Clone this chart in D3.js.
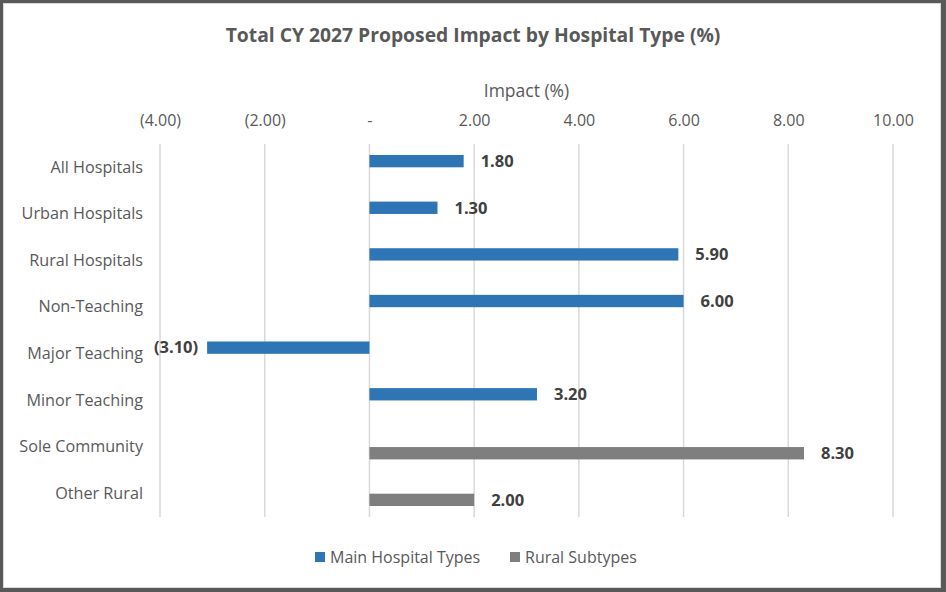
<!DOCTYPE html>
<html>
<head>
<meta charset="utf-8">
<script src="https://cdn.jsdelivr.net/npm/d3@7"></script>
<style>
  body { margin: 0; background: #fff; }
  text { font-family: "Open Sans", "Noto Sans", sans-serif; }
</style>
</head>
<body>
<div id="chart"></div>
<script>
// data
var categories = ['All Hospitals', 'Urban Hospitals', 'Rural Hospitals', 'Non-Teaching',
                  'Major Teaching', 'Minor Teaching', 'Sole Community', 'Other Rural'];
var seriesNames = ['Main Hospital Types', 'Rural Subtypes'];
var mainValues = [1.8, 1.3, 5.9, 6.0, -3.1, 3.2, null, null];
var ruralValues = [null, null, null, null, null, null, 8.3, 2.0];
var tickValues = [-4, -2, 0, 2, 4, 6, 8, 10];
var colors = ['#2E75B6', '#7F7F7F'];

var W = 946, H = 592;
var margin = { top: 144, left: 160, right: 53, bottom: 75 };

var svg = d3.select('#chart').append('svg')
    .attr('width', W)
    .attr('height', H);

// frame
svg.append('rect').attr('width', W).attr('height', H).attr('fill', '#595959');
svg.append('rect')
    .attr('x', 3.5).attr('y', 3.5)
    .attr('width', 937).attr('height', 584)
    .attr('fill', '#fff')
    .attr('stroke', '#d9d9d9')
    .attr('stroke-width', 1);

var x = d3.scaleLinear()
    .domain([-4, 10])
    .range([margin.left, W - margin.right]);

var y = d3.scaleBand()
    .domain(categories)
    .range([margin.top, H - margin.bottom]);

var ySub = d3.scaleBand()
    .domain(seriesNames)
    .range([0, y.bandwidth()])
    .paddingOuter(0.89);

// gridlines
svg.append('g')
    .selectAll('line')
    .data(tickValues)
    .enter()
    .append('line')
    .attr('x1', d => x(d)).attr('x2', d => x(d))
    .attr('y1', margin.top).attr('y2', H - margin.bottom)
    .attr('stroke', '#d9d9d9')
    .attr('stroke-width', 1.5);

// top axis
var fmt = function (d) {
    if (d === 0) return '-';
    if (d < 0) return '(' + d3.format('.2f')(-d) + ')';
    return d3.format('.2f')(d);
};
var xAxis = d3.axisTop(x)
    .tickValues(tickValues)
    .tickSize(0)
    .tickPadding(0)
    .tickFormat(fmt);

var gx = svg.append('g')
    .attr('transform', 'translate(0,' + 126 + ')')
    .call(xAxis);
gx.select('.domain').remove();
gx.selectAll('text')
    .attr('fill', '#595959')
    .style('font-size', '16px')
    .style('font-family', '"Open Sans", sans-serif');

// y axis labels
var yAxis = d3.axisLeft(y).tickSize(0).tickPadding(17);
var gy = svg.append('g')
    .attr('transform', 'translate(' + margin.left + ',0)')
    .call(yAxis);
gy.select('.domain').remove();
gy.selectAll('text')
    .attr('fill', '#595959')
    .style('font-size', '16.2px')
    .style('font-family', '"Open Sans", sans-serif');

// rows
var rows = categories.map((c, i) => ({
    cat: c,
    vals: [
        { s: seriesNames[0], v: mainValues[i] },
        { s: seriesNames[1], v: ruralValues[i] }
    ]
}));

var all = [];
rows.forEach(r => r.vals.forEach(d => { if (d.v !== null) all.push({ cat: r.cat, s: d.s, v: d.v }); }));

svg.append('g')
    .selectAll('rect')
    .data(all)
    .enter()
    .append('rect')
    .attr('x', d => x(Math.min(0, d.v)))
    .attr('y', d => y(d.cat) + ySub(d.s))
    .attr('width', d => Math.abs(x(d.v) - x(0)))
    .attr('height', ySub.bandwidth())
    .attr('fill', d => colors[seriesNames.indexOf(d.s)]);

// data labels
svg.append('g')
    .selectAll('text')
    .data(all)
    .enter()
    .append('text')
    .attr('x', d => d.v < 0 ? x(d.v) - 9 : x(d.v) + 17)
    .attr('y', d => y(d.cat) + ySub(d.s) + ySub.bandwidth() / 2)
    .attr('dy', '0.35em')
    .attr('text-anchor', d => d.v < 0 ? 'end' : 'start')
    .attr('fill', '#404040')
    .style('font-size', '16.5px')
    .style('font-weight', 'bold')
    .text(d => fmt(d.v));

// title
svg.append('text')
    .attr('x', 473)
    .attr('y', 42)
    .attr('text-anchor', 'middle')
    .attr('fill', '#595959')
    .style('font-size', '19.3px')
    .style('font-weight', 'bold')
    .text('Total CY 2027 Proposed Impact by Hospital Type (%)');

// axis title
svg.append('text')
    .attr('x', (x(-4) + x(10)) / 2)
    .attr('y', 97)
    .attr('text-anchor', 'middle')
    .attr('fill', '#595959')
    .style('font-size', '17.5px')
    .text('Impact (%)');

// legend
var legend = svg.append('g').attr('transform', 'translate(0,557)');
var lx = [315, 510];
seriesNames.forEach((s, i) => {
    legend.append('rect')
        .attr('x', lx[i]).attr('y', -5)
        .attr('width', 10).attr('height', 10)
        .attr('fill', colors[i]);
    legend.append('text')
        .attr('x', lx[i] + 15).attr('y', 0)
        .attr('dy', '0.35em')
        .attr('fill', '#595959')
        .style('font-size', '16px')
        .text(s);
});
</script>
</body>
</html>
